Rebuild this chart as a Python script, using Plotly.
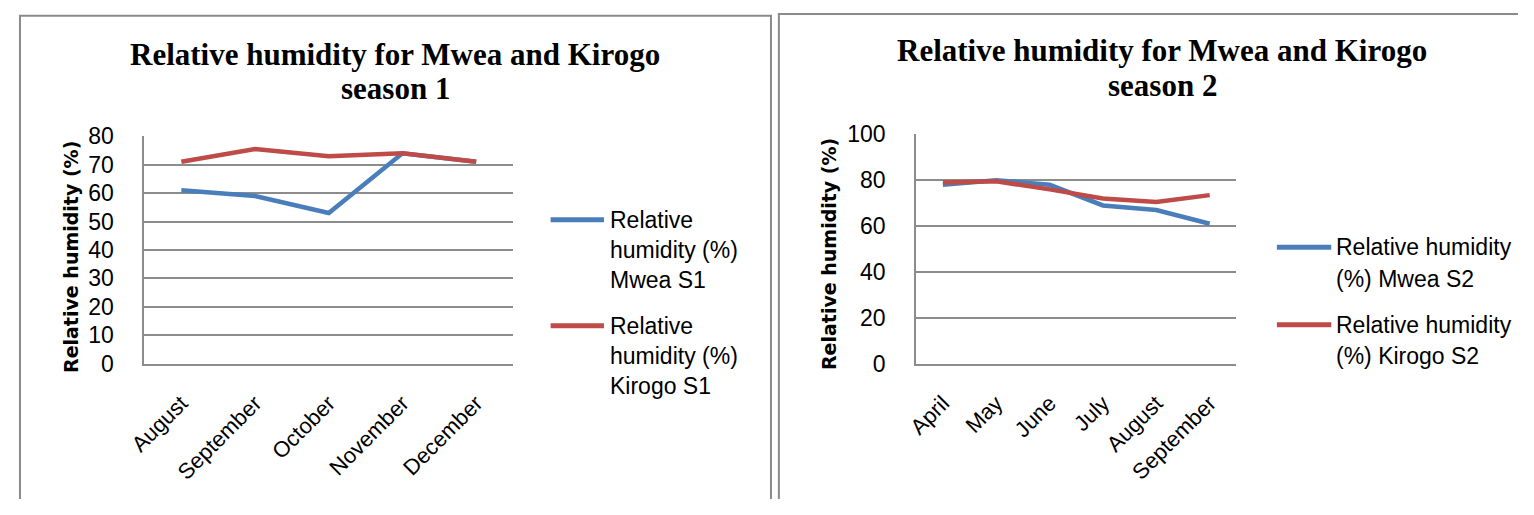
import plotly.graph_objects as go

# Season 1 (August–December)
months_s1 = ["August", "September", "October", "November", "December"]
mwea_s1 = [61, 59, 53, 74, 71]
kirogo_s1 = [71, 75.5, 73, 74, 71]

# Season 2 (April–September)
months_s2 = ["April", "May", "June", "July", "August", "September"]
mwea_s2 = [78, 80, 78, 69, 67, 61]
kirogo_s2 = [79, 79.5, 76, 72, 70.5, 73.5]

# the page body keeps its default 8px margin, so the figure is sized to fit inside it
PAGE_W, PAGE_H, BODY = 1534, 515, 8
W, H = PAGE_W - 2 * BODY, PAGE_H - 2 * BODY
BLUE = "#4A7EBB"
RED = "#BE4B48"
GRID = "#8C8C8C"
SANS = "Liberation Sans"
SERIF = "Liberation Serif"


def px(x):
    """Page pixel column -> paper fraction."""
    return (x - BODY) / W


def py(y):
    """Page pixel row (from top) -> paper fraction."""
    return 1 - (y - BODY) / H


fig = go.Figure()

fig.add_trace(go.Scatter(x=months_s1, y=mwea_s1, mode="lines", xaxis="x", yaxis="y",
                         line=dict(color=BLUE, width=4.5), showlegend=False))
fig.add_trace(go.Scatter(x=months_s1, y=kirogo_s1, mode="lines", xaxis="x", yaxis="y",
                         line=dict(color=RED, width=4.5), showlegend=False))
fig.add_trace(go.Scatter(x=months_s2, y=mwea_s2, mode="lines", xaxis="x2", yaxis="y2",
                         line=dict(color=BLUE, width=4.5), showlegend=False))
fig.add_trace(go.Scatter(x=months_s2, y=kirogo_s2, mode="lines", xaxis="x2", yaxis="y2",
                         line=dict(color=RED, width=4.5), showlegend=False))

xcommon = dict(type="category", showgrid=False, showline=True, linecolor=GRID, linewidth=2,
               ticks="", tickangle=-45, ticklabelstandoff=16,
               tickfont=dict(family=SANS, size=22, color="black"), zeroline=False, fixedrange=True)
ycommon = dict(showgrid=True, gridcolor=GRID, gridwidth=1.6, showline=True, linecolor=GRID,
               linewidth=2, ticks="", ticklabelstandoff=24, zeroline=False,
               tickfont=dict(family=SANS, size=23, color="black"), fixedrange=True)

fig.update_layout(
    width=W, height=H,
    margin=dict(l=0, r=0, t=0, b=0),
    paper_bgcolor="white", plot_bgcolor="white",
    xaxis=dict(domain=[px(136), px(509)], range=[-0.5, 4.5], anchor="y", **xcommon),
    yaxis=dict(domain=[py(378), py(138)], range=[0, 80], dtick=10, anchor="x", **ycommon),
    xaxis2=dict(domain=[px(917), px(1241)], range=[-0.5, 5.5], anchor="y2", **xcommon),
    yaxis2=dict(domain=[py(378), py(136)], range=[0, 100], dtick=20, anchor="x2", **ycommon),
)

shapes = [
    # chart frames
    dict(type="rect", xref="paper", yref="paper", x0=px(10), x1=px(770), y0=-0.1, y1=py(11),
         line=dict(color="#8A8A8A", width=2)),
    dict(type="rect", xref="paper", yref="paper", x0=px(778), x1=1.05, y0=-0.1, y1=py(9),
         line=dict(color="#8A8A8A", width=2)),
    # legend keys
    dict(type="line", xref="paper", yref="paper", x0=px(547), x1=px(601), y0=py(226), y1=py(226),
         line=dict(color=BLUE, width=5)),
    dict(type="line", xref="paper", yref="paper", x0=px(547), x1=px(601), y0=py(338), y1=py(338),
         line=dict(color=RED, width=5)),
    dict(type="line", xref="paper", yref="paper", x0=px(1282), x1=px(1337), y0=py(255), y1=py(255),
         line=dict(color=BLUE, width=5)),
    dict(type="line", xref="paper", yref="paper", x0=px(1282), x1=px(1337), y0=py(337), y1=py(337),
         line=dict(color=RED, width=5)),
]
fig.update_layout(shapes=shapes)

ann = []


def text(x, y, s, size=23, family=SANS, anchor="left", bold=False, angle=0):
    ann.append(dict(xref="paper", yref="paper", x=px(x), y=py(y),
                    text=f"<b>{s}</b>" if bold else s, showarrow=False,
                    xanchor=anchor, yanchor="middle", textangle=angle,
                    font=dict(family=family, size=size, color="black")))


# titles
text(390, 52, "Relative humidity for Mwea and Kirogo", size=31, family=SERIF, anchor="center", bold=True)
text(390, 88, "season 1", size=31, family=SERIF, anchor="center", bold=True)
text(1166, 48, "Relative humidity for Mwea and Kirogo", size=31, family=SERIF, anchor="center", bold=True)
text(1166, 84, "season 2", size=31, family=SERIF, anchor="center", bold=True)

# y-axis titles
text(61, 265, "Relative humidity (%)", size=19, family="DejaVu Sans", anchor="center", bold=True, angle=-90)
text(829, 262, "Relative humidity (%)", size=19, family="DejaVu Sans", anchor="center", bold=True, angle=-90)

# legend labels, season 1
for y, s in [(226, "Relative"), (258, "humidity (%)"), (290, "Mwea S1"),
             (338, "Relative"), (370, "humidity (%)"), (402, "Kirogo S1")]:
    text(605, y, s)

# legend labels, season 2
for y, s in [(255, "Relative humidity"), (289, "(%) Mwea S2"),
             (337, "Relative humidity"), (370, "(%) Kirogo S2")]:
    text(1340, y, s)

fig.update_layout(annotations=ann)

fig.write_html("out.html")
